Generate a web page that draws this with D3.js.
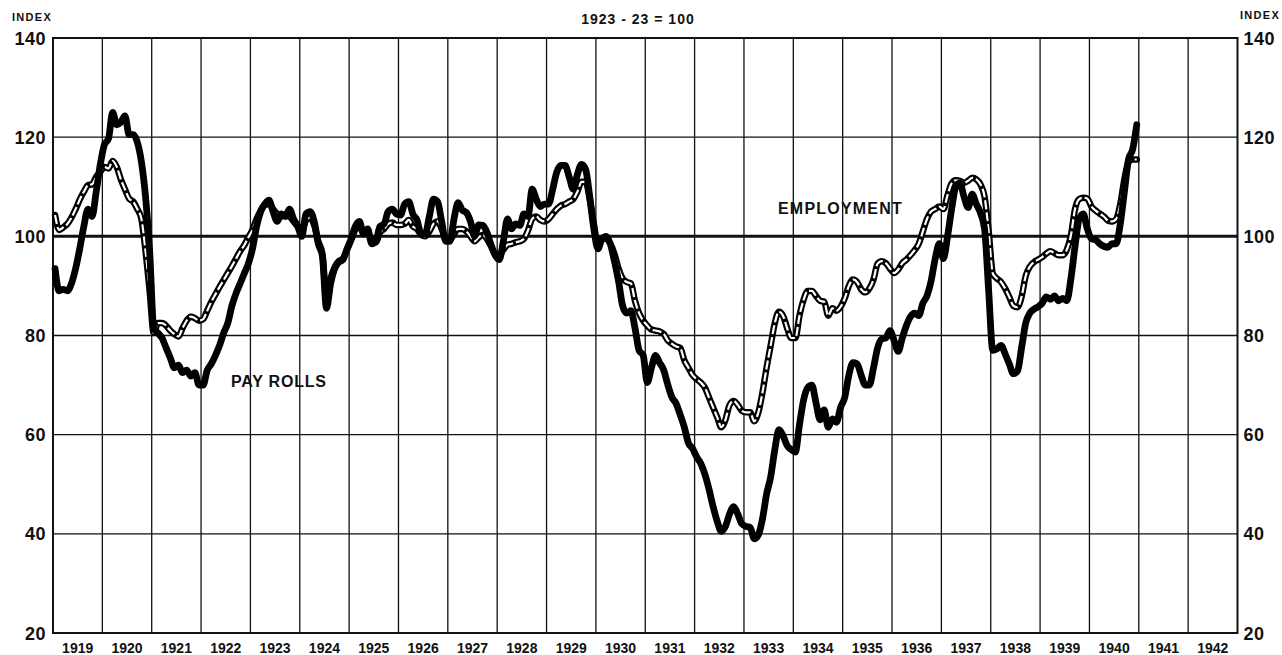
<!DOCTYPE html>
<html>
<head>
<meta charset="utf-8">
<script src="https://cdn.jsdelivr.net/npm/d3@7"></script>
<style>
  body { margin: 0; background: #fff; }
  svg text { font-family: "Liberation Sans", Arial, sans-serif; fill: #111; font-weight: bold; }
</style>
</head>
<body>
<svg id="chart"></svg>
<script>
// monthly index numbers, Jan 1919 - Dec 1940 (1923-25 = 100)
var startYear = 1919;
var yearLabels = d3.range(1919, 1943);
var yTicks = [20, 40, 60, 80, 100, 120, 140];

var payRolls = [
  93.5, 89, 89.3, 89, 90.5, 93.5, 97.5, 102, 105.5, 104, 109, 114.5, // 1919
  118.5, 119.7, 125, 122.5, 123, 124.3, 120.5, 120.5, 119, 115, 108, 97, // 1920
  81.5, 80.5, 79.5, 77.5, 75.5, 73.5, 74, 72.5, 73, 71.8, 72.5, 70, // 1921
  70, 73, 74.3, 76, 78, 80.5, 82.5, 86, 88.5, 90.5, 92.5, 94.5, // 1922
  97.5, 102, 105, 106.5, 107.3, 105, 103, 104.5, 104, 105.5, 103.5, 102, // 1923
  100, 104.5, 105, 103, 98.5, 96, 85.5, 90.5, 93.5, 94.8, 95.3, 97.5, // 1924
  99.5, 102, 103, 100.5, 101.5, 98.5, 99, 102, 102.5, 105, 105.5, 104.5, // 1925
  104.3, 106.5, 107, 104.5, 103.3, 100.5, 100.5, 104, 107.5, 107, 103, 99, // 1926
  99, 103.5, 106.8, 105.3, 104.8, 103, 100, 102.3, 102.2, 100.8, 98.3, 96.2, // 1927
  95.3, 99, 103.5, 101.5, 102.5, 102.2, 104.5, 104, 109.5, 107.5, 106, 106.5, // 1928
  106.5, 109.5, 113, 114.3, 114.3, 112, 109.5, 112.5, 114.5, 113.5, 108, 101.5, // 1929
  97.5, 99.5, 100, 98.5, 95, 91, 86, 84.5, 85, 81.5, 77, 76, // 1930
  70.5, 73.5, 76, 74.5, 73, 70, 67.5, 66.3, 64, 61.5, 58.3, 57.2, // 1931
  55.5, 54.2, 52, 49, 45.5, 42.5, 40.5, 41.5, 44, 45.5, 44, 42, // 1932
  41.5, 41.3, 39, 39.8, 43, 48, 51.5, 57, 61, 59.8, 57.8, 57, // 1933
  56.5, 62, 67, 69.5, 70, 66.5, 63, 65, 61.5, 63.2, 62.5, 65.5, // 1934
  67.5, 72, 74.5, 74.3, 72, 70, 70, 73.5, 77.5, 79.3, 79.5, 81, // 1935
  79, 76.8, 79.5, 82, 83.8, 84.5, 84, 86.5, 88, 91, 95.5, 98.5, // 1936
  95.5, 100, 105.5, 110, 110.8, 108, 105.8, 108.5, 106.5, 104.7, 101.5, 89, // 1937
  77, 77.3, 78, 76.3, 74.3, 72.3, 72.8, 77.5, 82.5, 84.5, 85.3, 85.8, // 1938
  86.5, 87.8, 87.3, 88, 87, 87.5, 87, 91.5, 98, 103.5, 104.5, 101.5, // 1939
  99.5, 99.3, 98.5, 98, 97.8, 98.5, 98.5, 102.5, 109, 115.5, 117.5, 122.5 // 1940
];

var employment = [
  104.3, 101.3, 101.8, 102.5, 103.8, 105.5, 107.4, 109, 110.3, 110.5, 112, 113, // 1919
  114, 113.7, 115.2, 114, 111.5, 109.5, 107.6, 107, 105.5, 103.5, 97, 89, // 1920
  80.5, 82.5, 82.5, 82, 81, 80.3, 79.8, 81.5, 83, 83.8, 83.5, 83, // 1921
  83.3, 85, 86.8, 88.3, 89.8, 91.2, 92.6, 94, 95.5, 97, 98.2, 99.8, // 1922
  101.3, 103.5, 105.2, 106.3, 106.5, 105.5, 104.5, 104, 104.2, 104, 103, 102, // 1923
  101, 103.2, 103.8, 102.3, 99, 96.5, 87.5, 91.5, 93.8, 95, 95.5, 97.3, // 1924
  99.3, 101.3, 102, 100.8, 100.8, 99, 98.8, 100.8, 101.5, 102.5, 102.8, 102.3, // 1925
  102.3, 102.5, 103.3, 102, 101.5, 100.3, 100, 101, 102.5, 103, 101.5, 99.5, // 1926
  99.3, 100.5, 101.5, 101.5, 101, 100, 99, 99.8, 100.3, 99.5, 98, 96.5, // 1927
  96.3, 97.3, 98.3, 98.5, 98.8, 99, 99.5, 101.2, 103.5, 104, 103.3, 103, // 1928
  103.5, 104.5, 105.5, 106.2, 106.5, 107, 107.5, 109, 111, 111, 107.5, 102.5, // 1929
  98.3, 99.5, 99.5, 98.5, 96.5, 93.5, 91.5, 90.8, 90.5, 87, 84.5, 83, // 1930
  82, 81.2, 81, 80.8, 80.3, 79, 78.3, 77.8, 77.5, 75, 73.5, 72, // 1931
  71.2, 70.5, 69.5, 67.5, 65.5, 63.5, 61.5, 63, 66, 66.8, 66, 64.8, // 1932
  64.5, 64.5, 62.7, 64.5, 68.5, 73.5, 78, 82.5, 84.8, 84, 81.5, 79.5, // 1933
  79.5, 84, 87.2, 89, 89, 88, 87, 86.8, 84, 85.5, 85, 85.8, // 1934
  87.5, 90, 91.3, 90.8, 89.3, 88.7, 89.5, 91.3, 94.5, 95, 94.6, 93.5, // 1935
  92.6, 93.3, 94.6, 95.3, 96.2, 97.2, 98.5, 101, 103.5, 105, 105.5, 106, // 1936
  105.5, 108.3, 110.7, 111.3, 111.2, 110.8, 111.2, 111.8, 111.5, 110.5, 108, 101, // 1937
  92.5, 91.5, 90.8, 89.5, 87.8, 86, 85.7, 87.8, 92, 93.9, 94.8, 95.3, // 1938
  95.8, 96.5, 97, 96.6, 96.2, 96.2, 97.3, 100.2, 105.5, 107.5, 107.8, 107.6, // 1939
  106, 105.2, 104.6, 104, 103.2, 103, 103.5, 106.5, 111.5, 115, 115.5, 115.5 // 1940
];

var outerWidth = 1282;
var outerHeight = 655;
var margin = { top: 38, left: 53, right: 44.5, bottom: 22 };
var width = outerWidth - margin.left - margin.right;
var height = outerHeight - margin.top - margin.bottom;

var svg = d3.select("#chart").attr("width", outerWidth).attr("height", outerHeight);
var cg = svg.append("g").attr("transform", "translate(" + margin.left + "," + margin.top + ")");

var x = d3.scaleLinear().domain([startYear, 1943]).range([0, width]);
var y = d3.scaleLinear().domain([20, 140]).range([height, 0]);

// grid
var grid = cg.append("g").attr("stroke", "#111").attr("fill", "none");
grid.selectAll("line.v")
  .data(d3.range(1920, 1943))
  .enter()
  .append("line")
  .attr("class", "v")
  .attr("x1", (d) => x(d))
  .attr("x2", (d) => x(d))
  .attr("y1", 0)
  .attr("y2", height)
  .attr("stroke-width", 1.3);
grid.selectAll("line.h")
  .data(yTicks.filter((d) => d != 20 && d != 140))
  .enter()
  .append("line")
  .attr("class", "h")
  .attr("x1", 0)
  .attr("x2", width)
  .attr("y1", (d) => y(d))
  .attr("y2", (d) => y(d))
  .attr("stroke-width", (d) => (d == 100 ? 3 : 1.4));
grid.append("rect")
  .attr("width", width)
  .attr("height", height)
  .attr("stroke-width", 2);

// series
var line = d3
  .line()
  .x((d, i) => x(startYear + (i + 0.5) / 12))
  .y((d) => y(d))
  .curve(d3.curveMonotoneX);

cg.append("path")
  .datum(employment)
  .attr("d", line)
  .attr("fill", "none")
  .attr("stroke", "#000")
  .attr("stroke-width", 6.5)
  .attr("stroke-linejoin", "round")
  .attr("stroke-linecap", "round");
cg.append("path")
  .datum(employment)
  .attr("d", line)
  .attr("fill", "none")
  .attr("stroke", "#fff")
  .attr("stroke-width", 2.2)
  .attr("stroke-dasharray", "9,3");
cg.append("path")
  .datum(payRolls)
  .attr("d", line)
  .attr("fill", "none")
  .attr("stroke", "#000")
  .attr("stroke-width", 6.8)
  .attr("stroke-linejoin", "round")
  .attr("stroke-linecap", "round");

// y axis labels, both sides
cg.selectAll("text.yl")
  .data(yTicks)
  .enter()
  .append("text")
  .attr("class", "yl")
  .attr("x", -7)
  .attr("y", (d) => y(d) + 6.5)
  .attr("text-anchor", "end")
  .style("font-size", "18px")
  .style("letter-spacing", "0.5px")
  .text((d) => d);
cg.selectAll("text.yr")
  .data(yTicks)
  .enter()
  .append("text")
  .attr("class", "yr")
  .attr("x", width + 6)
  .attr("y", (d) => y(d) + 6.5)
  .attr("text-anchor", "start")
  .style("font-size", "18px")
  .style("letter-spacing", "0.5px")
  .text((d) => d);

// year labels
cg.selectAll("text.yr-label")
  .data(yearLabels)
  .enter()
  .append("text")
  .attr("class", "yr-label")
  .attr("x", (d) => x(d + 0.5))
  .attr("y", height + 19.5)
  .attr("text-anchor", "middle")
  .style("font-size", "14px")
  .text((d) => d);

svg.append("text").attr("x", 12).attr("y", 20.5)
  .style("font-size", "11px").style("letter-spacing", "1.3px").text("INDEX");
svg.append("text").attr("x", 1240).attr("y", 19)
  .style("font-size", "11px").style("letter-spacing", "1.3px").text("INDEX");
svg.append("text").attr("x", 638).attr("y", 24).attr("text-anchor", "middle")
  .style("font-size", "14px").style("letter-spacing", "1px").text("1923 - 23 = 100");

svg.append("text").attr("x", 778).attr("y", 213.5)
  .style("font-size", "16px").style("letter-spacing", "1.2px").text("EMPLOYMENT");
svg.append("text").attr("x", 231).attr("y", 387)
  .style("font-size", "16px").style("letter-spacing", "0.8px").text("PAY ROLLS");
</script>
</body>
</html>
